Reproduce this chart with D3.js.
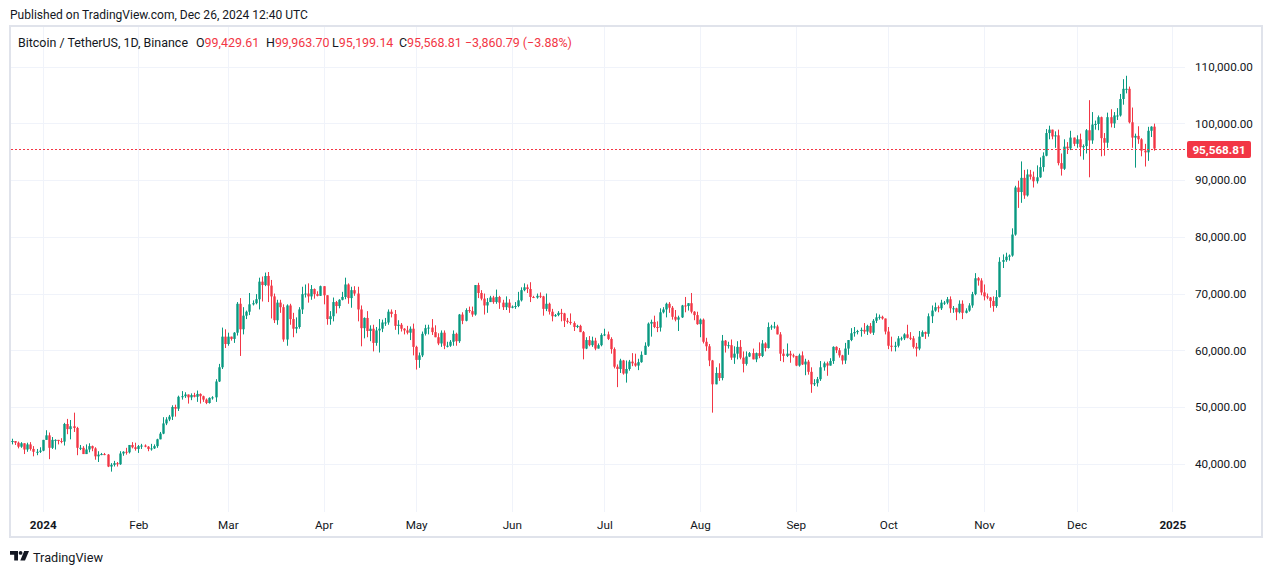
<!DOCTYPE html>
<html><head><meta charset="utf-8">
<script src="https://cdn.jsdelivr.net/npm/d3@7/dist/d3.min.js"></script>
<style>
html,body{margin:0;padding:0;background:#fff;}
svg{display:block;font-family:Roboto,"Noto Sans",sans-serif;}
</style></head>
<body>
<svg id="chart" width="1274" height="575"></svg>
<script>
// ---- DATA (BTCUSDT daily, values in thousands of USDT) ----
const firstDay = "2023-12-22";
const opens = [
43.9,44.0,43.7,43.0,43.6,42.5,43.4,42.6,42.1,42.1,
42.3,44.2,45.0,42.8,44.2,44.2,44.0,43.9,47.0,46.1,46.6,46.3,42.8,42.8,41.7,42.5,43.1,42.7,41.3,41.6,41.7,41.6,39.5,39.8,40.1,39.9,41.8,42.1,42.0,43.3,42.9,
42.6,43.1,43.2,43.0,42.6,42.7,43.1,44.3,45.3,47.1,47.8,48.3,50.0,49.7,51.8,51.9,52.2,51.7,52.1,51.8,52.3,51.9,51.3,50.7,51.6,51.7,54.5,57.0,62.4,
61.1,62.4,62.0,63.1,68.2,63.7,66.1,66.8,68.1,68.3,69.0,72.1,71.5,73.1,71.4,69.5,65.3,68.4,67.6,61.9,67.9,65.5,63.8,64.1,67.2,69.9,70.0,69.5,70.8,69.9,69.6,
71.3,69.7,65.5,66.0,68.5,67.8,68.9,69.4,71.6,69.2,70.6,70.0,67.2,63.9,65.7,63.4,63.8,61.3,63.5,63.8,64.9,64.9,66.8,66.4,64.3,64.5,63.8,63.5,63.1,63.8,
60.6,58.3,59.1,62.9,63.9,64.0,63.2,62.3,61.2,63.1,60.8,60.8,61.5,62.9,61.6,66.3,65.2,67.1,66.9,66.3,71.5,70.1,69.1,67.9,68.5,69.3,68.5,69.4,68.4,67.6,68.4,
67.5,67.7,67.8,68.8,70.6,71.1,70.8,69.4,69.3,69.6,69.5,67.3,68.2,66.8,66.0,66.2,66.6,66.5,65.2,65.0,64.8,64.1,64.3,63.2,60.3,61.8,60.9,61.7,60.3,60.9,
62.7,62.8,62.0,60.2,57.1,56.7,58.2,55.9,56.7,58.0,57.7,57.3,57.9,59.2,60.8,64.7,65.0,64.1,64.0,66.7,67.2,68.2,67.5,65.9,65.4,65.8,67.9,67.8,68.3,66.8,66.2,
64.6,65.4,61.5,60.7,58.2,54.0,56.0,55.1,61.7,60.8,60.9,58.7,59.4,60.6,58.7,57.6,58.9,59.5,58.4,59.5,59.0,61.2,60.4,64.1,64.2,64.2,62.8,59.4,59.0,59.4,59.1,
59.0,57.3,59.1,57.5,58.0,56.2,54.0,54.2,54.9,57.0,57.7,57.3,58.1,60.6,60.0,59.1,58.2,60.3,61.8,63.0,63.2,63.4,63.6,63.3,64.3,63.1,65.2,65.8,65.9,65.6,
63.3,60.8,60.6,60.8,62.1,62.1,62.8,62.2,62.1,60.6,60.3,62.4,63.2,62.9,66.0,67.0,67.6,67.4,68.4,68.4,69.0,67.4,67.4,66.7,68.2,66.6,67.0,67.9,69.9,72.7,72.3,
70.2,69.5,69.3,68.7,67.8,69.4,75.6,75.9,76.5,76.7,80.4,88.7,87.9,90.4,87.3,91.0,90.6,89.8,90.5,92.3,94.3,98.3,98.9,97.7,97.9,93.0,92.0,95.9,95.6,97.5,
96.4,97.2,95.8,96.0,98.8,97.0,99.8,99.9,101.1,97.4,96.6,101.1,100.0,101.4,101.4,104.3,106.1,106.1,100.2,97.5,97.8,97.2,95.2,94.9,98.7,99.42961
];
const highs = [
44.4,44.0,43.9,43.8,43.6,43.7,43.8,43.1,42.6,42.9,
44.2,45.9,45.5,44.7,44.3,44.2,44.5,47.2,47.9,47.7,49.0,46.5,43.3,43.1,43.4,43.6,43.2,42.9,42.2,41.9,41.9,41.7,40.1,40.5,40.3,42.2,42.2,42.8,43.3,43.8,43.7,
43.3,43.5,43.4,43.1,43.5,43.4,44.4,45.6,48.2,48.2,48.6,50.3,50.4,52.0,52.8,52.6,52.2,52.4,52.5,52.9,52.4,52.0,51.5,51.7,51.9,54.9,57.6,64.0,63.7,
63.1,62.4,63.2,68.5,69.2,67.6,67.0,70.1,68.8,69.9,72.8,73.0,73.7,73.8,72.4,70.0,68.9,68.9,68.1,68.1,68.2,66.6,65.8,67.6,71.2,71.6,71.8,71.5,70.9,70.4,71.4,
71.3,69.7,66.9,69.3,68.7,69.0,70.3,72.8,71.8,71.2,71.3,71.2,67.9,65.8,66.9,64.4,64.5,64.1,65.5,65.4,65.7,67.2,67.2,67.1,65.3,64.8,63.9,64.3,64.2,64.7,
60.8,59.6,63.3,64.5,64.5,65.5,64.4,63.0,63.5,63.5,61.5,61.8,63.5,63.1,66.4,66.7,67.4,67.7,67.7,71.5,71.9,70.6,70.0,69.2,69.6,69.6,70.7,69.6,68.9,69.5,69.0,
67.9,68.5,70.3,71.1,71.8,71.6,72.0,69.6,70.0,70.2,69.6,70.0,68.4,67.3,66.4,66.9,67.3,66.6,65.7,66.5,65.1,64.5,64.5,63.4,62.3,62.5,62.4,62.2,61.2,63.0,
63.8,63.3,62.3,60.5,57.5,58.5,58.3,58.2,58.3,59.5,59.4,58.5,59.8,61.4,64.9,65.4,66.1,65.1,67.4,67.6,68.4,68.5,67.8,67.1,66.1,68.0,69.4,68.3,70.1,66.9,66.8,
65.6,65.6,62.2,61.1,58.3,57.0,57.7,62.7,61.8,61.5,61.9,60.7,61.6,61.8,59.8,59.8,59.7,60.3,59.6,61.4,61.8,61.4,64.9,64.5,65.0,64.5,63.2,60.2,61.2,59.9,59.4,
59.0,59.4,59.8,58.5,58.3,57.0,54.9,55.3,58.1,58.0,58.0,58.6,60.7,60.7,60.4,59.2,61.3,61.8,63.9,64.1,63.6,64.0,64.8,64.5,64.8,65.5,66.5,66.3,66.1,65.6,
64.1,62.4,61.5,62.5,62.4,63.0,64.5,63.2,62.5,61.3,63.4,63.5,63.3,66.5,67.9,68.4,67.9,68.9,68.7,69.4,69.5,67.8,67.5,68.8,68.8,67.4,68.3,70.3,73.6,72.9,72.7,
71.6,70.0,69.4,69.5,70.6,76.4,76.9,77.2,76.9,81.5,89.0,89.9,93.3,91.8,91.9,91.8,91.5,92.6,94.0,94.9,99.0,99.6,98.9,98.6,98.9,94.7,97.2,96.7,98.7,97.5,
97.9,98.2,96.3,99.0,104.1,102.0,100.5,101.4,101.2,98.3,101.9,102.5,102.0,102.7,105.2,107.8,108.4,106.5,102.8,98.2,99.5,97.4,96.4,99.4,99.5,99.9637
];
const lows = [
43.4,43.3,42.7,42.8,41.7,42.1,42.3,41.3,41.5,41.9,
42.2,44.2,40.8,42.6,42.5,43.4,43.6,43.2,45.2,44.3,45.6,41.5,42.4,41.7,41.7,42.0,42.2,40.7,40.3,41.5,41.5,39.4,38.6,39.5,39.5,39.8,41.4,41.6,41.8,42.7,42.3,
41.9,42.6,42.9,42.2,42.3,42.6,42.8,44.3,45.2,46.8,47.5,47.7,48.3,49.3,51.3,51.6,50.6,51.2,51.7,50.9,50.6,50.9,50.5,50.6,51.3,50.9,54.4,56.7,60.4,
60.8,61.7,61.3,62.6,59.0,62.8,65.5,66.2,67.9,68.1,67.2,68.6,71.3,68.5,65.6,64.8,64.5,66.6,61.5,60.8,64.5,62.3,63.0,63.8,66.4,69.3,68.4,68.9,69.1,69.5,69.6,
68.1,64.5,64.5,65.1,66.5,67.4,68.8,69.0,68.2,67.5,69.6,65.1,60.7,62.1,62.3,61.6,59.8,60.8,59.6,63.2,64.3,64.5,65.8,63.6,62.8,63.3,62.8,62.8,61.8,59.1,
56.6,56.9,58.8,62.6,62.8,62.7,62.3,60.9,60.6,60.2,60.5,60.6,60.8,60.8,61.3,64.6,65.1,66.6,65.9,66.1,69.2,68.8,66.3,66.6,68.5,68.2,68.2,67.3,67.1,67.1,66.6,
67.4,67.3,67.6,68.6,70.4,70.1,68.5,69.2,69.1,69.2,66.1,66.9,66.3,65.1,65.9,66.0,65.1,64.1,64.7,64.5,63.4,63.9,63.2,58.4,60.2,60.7,60.6,60.0,60.3,60.7,
62.5,61.8,59.4,56.8,53.5,56.0,55.7,54.3,56.4,57.2,57.1,56.5,57.8,59.2,60.6,62.4,63.9,63.2,63.3,66.5,65.8,66.6,65.4,65.1,63.4,65.7,66.7,67.0,66.5,65.3,64.5,
62.3,61.2,59.9,57.2,49.0,54.0,54.6,54.7,59.6,60.3,58.3,57.6,58.4,58.4,56.1,57.3,58.8,58.4,57.9,58.6,58.8,59.8,60.3,63.6,63.8,62.8,58.1,57.9,58.8,57.8,58.7,
57.2,57.1,57.4,55.6,55.7,52.5,53.7,53.6,54.6,56.4,55.5,57.3,57.6,59.5,58.7,57.5,57.6,59.2,61.6,62.4,62.8,62.4,62.9,62.7,62.9,62.7,64.8,65.4,65.4,62.8,
60.2,59.8,59.8,60.5,61.7,61.8,62.1,61.8,60.3,58.9,60.0,62.4,62.0,62.4,64.8,66.8,66.7,67.1,68.0,68.1,66.6,66.6,65.3,66.5,65.5,66.5,66.8,67.5,69.7,71.4,69.7,
68.8,69.0,67.5,66.8,67.5,69.3,74.5,75.6,75.8,76.5,80.2,85.1,86.0,86.7,87.1,90.1,88.7,89.4,90.4,91.5,94.2,97.2,97.2,95.7,92.6,90.8,91.8,94.6,95.3,96.0,
95.7,94.2,93.6,94.7,90.5,96.4,98.9,98.8,94.2,94.3,95.7,99.3,99.2,100.6,101.2,103.3,105.3,100.0,95.7,92.2,96.4,94.2,92.4,93.4,97.6,95.19914
];
const closes = [
44.0,43.7,43.0,43.6,42.5,43.4,42.6,42.1,42.1,42.3,
44.2,45.0,42.8,44.2,44.2,44.0,43.9,47.0,46.1,46.6,46.3,42.8,42.8,41.7,42.5,43.1,42.7,41.3,41.6,41.7,41.6,39.5,39.8,40.1,39.9,41.8,42.1,42.0,43.3,42.9,42.6,
43.1,43.2,43.0,42.6,42.7,43.1,44.3,45.3,47.1,47.8,48.3,50.0,49.7,51.8,51.9,52.2,51.7,52.1,51.8,52.3,51.9,51.3,50.7,51.6,51.7,54.5,57.0,62.4,61.1,
62.4,62.0,63.1,68.2,63.7,66.1,66.8,68.1,68.3,69.0,72.1,71.5,73.1,71.4,69.5,65.3,68.4,67.6,61.9,67.9,65.5,63.8,64.1,67.2,69.9,70.0,69.5,70.8,69.9,69.6,71.3,
69.7,65.5,66.0,68.5,67.8,68.9,69.4,71.6,69.2,70.6,70.0,67.2,63.9,65.7,63.4,63.8,61.3,63.5,63.8,64.9,64.9,66.8,66.4,64.3,64.5,63.8,63.5,63.1,63.8,60.6,
58.3,59.1,62.9,63.9,64.0,63.2,62.3,61.2,63.1,60.8,60.8,61.5,62.9,61.6,66.3,65.2,67.1,66.9,66.3,71.5,70.1,69.1,67.9,68.5,69.3,68.5,69.4,68.4,67.6,68.4,67.5,
67.7,67.8,68.8,70.6,71.1,70.8,69.4,69.3,69.6,69.5,67.3,68.2,66.8,66.0,66.2,66.6,66.5,65.2,65.0,64.8,64.1,64.3,63.2,60.3,61.8,60.9,61.7,60.3,60.9,62.7,
62.8,62.0,60.2,57.1,56.7,58.2,55.9,56.7,58.0,57.7,57.3,57.9,59.2,60.8,64.7,65.0,64.1,64.0,66.7,67.2,68.2,67.5,65.9,65.4,65.8,67.9,67.8,68.3,66.8,66.2,64.6,
65.4,61.5,60.7,58.2,54.0,56.0,55.1,61.7,60.8,60.9,58.7,59.4,60.6,58.7,57.6,58.9,59.5,58.4,59.5,59.0,61.2,60.4,64.1,64.2,64.2,62.8,59.4,59.0,59.4,59.1,59.0,
57.3,59.1,57.5,58.0,56.2,54.0,54.2,54.9,57.0,57.7,57.3,58.1,60.6,60.0,59.1,58.2,60.3,61.8,63.0,63.2,63.4,63.6,63.3,64.3,63.1,65.2,65.8,65.9,65.6,63.3,
60.8,60.6,60.8,62.1,62.1,62.8,62.2,62.1,60.6,60.3,62.4,63.2,62.9,66.0,67.0,67.6,67.4,68.4,68.4,69.0,67.4,67.4,66.7,68.2,66.6,67.0,67.9,69.9,72.7,72.3,70.2,
69.5,69.3,68.7,67.8,69.4,75.6,75.9,76.5,76.7,80.4,88.7,87.9,90.4,87.3,91.0,90.6,89.8,90.5,92.3,94.3,98.3,98.9,97.7,97.9,93.0,92.0,95.9,95.6,97.5,96.4,
97.2,95.8,96.0,98.8,97.0,99.8,99.9,101.1,97.4,96.6,101.1,100.0,101.4,101.4,104.3,106.1,106.1,100.2,97.5,97.8,97.2,95.2,94.9,98.7,99.42961,95.56881
];
const priceTicks = [40000,50000,60000,70000,80000,90000,100000,110000];
const timeTickLabels = ["2024","Feb","Mar","Apr","May","Jun","Jul","Aug","Sep","Oct","Nov","Dec","2025"];
const headerText = "Published on TradingView.com, Dec 26, 2024 12:40 UTC";
const symbolTitle = "Bitcoin / TetherUS, 1D, Binance";
const lastBar = {o:99429.61, h:99963.70, l:95199.14, c:95568.81};
const lastChange = {abs:-3860.79, pct:-3.88};

// ---- BUILD ----
const UP = "#089981", DOWN = "#f23645", TXT = "#131722", GRID = "#f0f3fa", BORDER = "#e0e3eb";
const svg = d3.select("#chart");
const t0 = Date.parse(firstDay + "T00:00:00Z");
const bars = closes.map((c, i) => ({
  date: new Date(t0 + i * 86400000),
  o: opens[i] * 1000, h: highs[i] * 1000, l: lows[i] * 1000, c: c * 1000
}));

const plot = {left: 11, right: 1185, top: 27, bottom: 512};
const x = d3.scaleUtc()
  .domain([new Date(Date.UTC(2024,0,1)), new Date(Date.UTC(2025,0,1))])
  .range([42.7, 1172.3]);
const y = d3.scaleLinear().domain([40000, 110000]).range([463.7, 66.7]);

function measure(str, size, weight) {
  const t = svg.append("text").attr("font-size", size).attr("font-weight", weight || 400).text(str);
  const w = t.node().getComputedTextLength(); t.remove(); return w;
}
function fit(str, target, weight) { return +(12 * target / measure(str, 12, weight)).toFixed(2); }
const axisFS = fit("110,000.00", 58);
const headerFS = fit(headerText, 298);
const legendFS = fit(symbolTitle, 170);
const footerFS = fit("TradingView", 70);

// frame
svg.append("rect").attr("x", 10).attr("y", 26).attr("width", 1252).attr("height", 511)
  .attr("fill", "none").attr("stroke", BORDER).attr("stroke-width", 2);

// grid
const months = d3.utcMonths(new Date(Date.UTC(2024,0,1)), new Date(Date.UTC(2025,0,2)));
svg.append("g").selectAll("line").data(months).join("line")
  .attr("x1", d => Math.round(x(d)) + 0.5).attr("x2", d => Math.round(x(d)) + 0.5)
  .attr("y1", plot.top).attr("y2", plot.bottom).attr("stroke", GRID).attr("stroke-width", 1);
svg.append("g").selectAll("line").data(priceTicks).join("line")
  .attr("x1", plot.left).attr("x2", plot.right)
  .attr("y1", d => Math.round(y(d)) + 0.5).attr("y2", d => Math.round(y(d)) + 0.5)
  .attr("stroke", GRID).attr("stroke-width", 1);

// candles
const bw = 2.4;
const cg = svg.append("g");
cg.selectAll("line").data(bars).join("line")
  .attr("x1", d => Math.round(x(d.date)) + 0.5).attr("x2", d => Math.round(x(d.date)) + 0.5)
  .attr("y1", d => y(d.h)).attr("y2", d => y(d.l))
  .attr("stroke", d => d.c >= d.o ? UP : DOWN).attr("stroke-width", 1);
cg.selectAll("rect").data(bars).join("rect")
  .attr("x", d => Math.round(x(d.date)) + 0.5 - bw / 2)
  .attr("width", bw)
  .attr("y", d => y(Math.max(d.o, d.c)))
  .attr("height", d => Math.max(1, Math.abs(y(d.o) - y(d.c))))
  .attr("fill", d => d.c >= d.o ? UP : DOWN);

// last price line
const lastY = Math.round(y(lastBar.c)) + 0.5;
svg.append("line").attr("x1", plot.left).attr("x2", plot.right).attr("y1", lastY).attr("y2", lastY)
  .attr("stroke", DOWN).attr("stroke-width", 1).attr("stroke-dasharray", "2,2")
  .attr("shape-rendering", "crispEdges");

// y axis
const yAxis = d3.axisRight(y).tickValues(priceTicks).tickFormat(d3.format(",.2f")).tickSize(0).tickPadding(0);
const ya = svg.append("g").attr("transform", "translate(1195,0)").call(yAxis);
ya.select(".domain").remove();
ya.selectAll("text").attr("font-size", axisFS).attr("fill", TXT).attr("font-family", "Roboto,'Noto Sans',sans-serif");

// last price label
svg.append("rect").attr("x", 1187).attr("y", lastY - 8.5).attr("width", 64).attr("height", 17)
  .attr("rx", 2).attr("fill", DOWN);
svg.append("text").attr("x", 1219).attr("y", lastY).attr("dy", "0.35em").attr("text-anchor", "middle")
  .attr("font-size", axisFS).attr("font-weight", 700).attr("fill", "#fff")
  .text(d3.format(",.2f")(lastBar.c));

// x axis
const xAxis = d3.axisBottom(x).tickValues(months).tickFormat((d, i) => timeTickLabels[i]).tickSize(0).tickPadding(0);
const xa = svg.append("g").attr("transform", "translate(0,521)").call(xAxis);
xa.select(".domain").remove();
xa.selectAll("text").attr("font-size", axisFS).attr("fill", TXT)
  .attr("font-family", "Roboto,'Noto Sans',sans-serif")
  .attr("font-weight", (d, i) => /^\d{4}$/.test(timeTickLabels[i]) ? 700 : 400);

// header
svg.append("text").attr("x", 10).attr("y", 19).attr("font-size", headerFS).attr("fill", TXT).text(headerText);

// legend
const lg = svg.append("g").attr("font-size", legendFS);
lg.append("text").attr("x", 18).attr("y", 47).attr("fill", TXT).text(symbolTitle);
const fmt = d3.format(",.2f");
const items = [
  {k: "O", v: fmt(lastBar.o), x: 196},
  {k: "H", v: fmt(lastBar.h), x: 266},
  {k: "L", v: fmt(lastBar.l), x: 332},
  {k: "C", v: fmt(lastBar.c), x: 399}
];
items.forEach(it => {
  const t = lg.append("text").attr("x", it.x).attr("y", 47);
  t.append("tspan").attr("fill", TXT).text(it.k);
  t.append("tspan").attr("fill", DOWN).text(it.v);
});
lg.append("text").attr("x", 465).attr("y", 47).attr("fill", DOWN)
  .text("\u2212" + fmt(Math.abs(lastChange.abs)) + " (\u2212" + Math.abs(lastChange.pct).toFixed(2) + "%)");

// footer logo + text
const logo = svg.append("g").attr("transform", "translate(10,551)").attr("fill", TXT);
logo.append("path").attr("d", "M0,0H8V9.5H4.2V3.8H0Z");
logo.append("circle").attr("cx", 10.6).attr("cy", 1.9).attr("r", 1.9);
logo.append("path").attr("d", "M14.2,0H19L15,9.5H10.3Z");
svg.append("text").attr("x", 33).attr("y", 561.5).attr("font-size", footerFS).attr("fill", TXT).text("TradingView");
</script>
</body></html>
